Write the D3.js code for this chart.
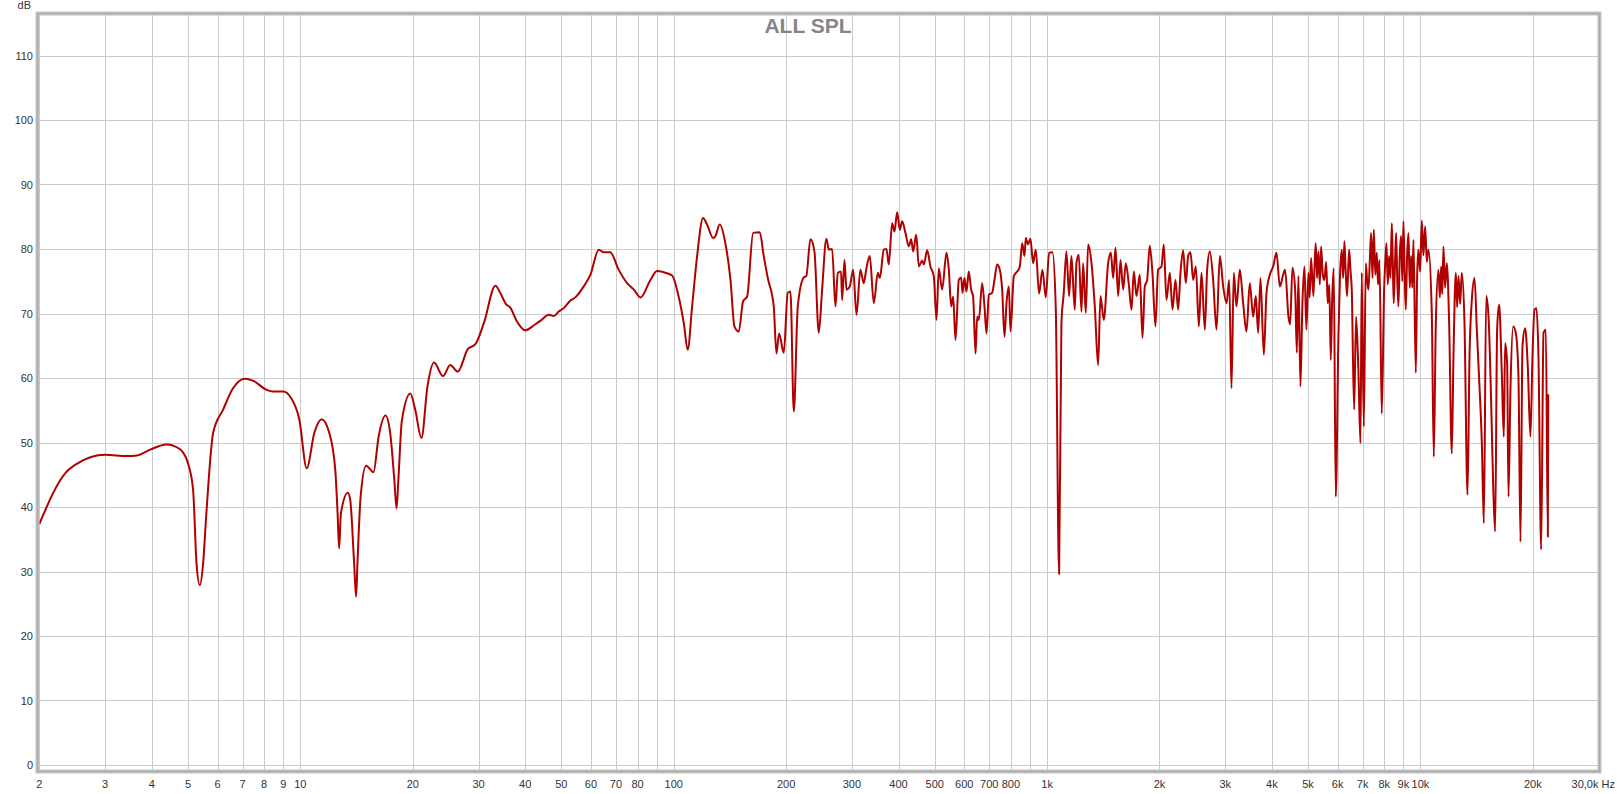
<!DOCTYPE html>
<html><head><meta charset="utf-8">
<script src="https://cdn.jsdelivr.net/npm/d3@7"></script>
<style>html,body{margin:0;padding:0;background:#fff;} svg{display:block;}</style>
</head><body>
<svg id="chart" width="1617" height="794"></svg>
<script>
// ---- data ----
const freqHz = [
2.0,2.35,2.52,3.0,3.43,3.65,3.96,4.38,4.57,4.86,5.0,5.16,5.27,5.38,5.49,5.60,5.84,6.21,6.60,7.09,7.46,8.10,8.44,9.0,9.44,9.94,10.4,10.9,11.4,11.95,12.4,12.58,12.7,12.84,13.4,13.6,13.93,14.1,14.22,14.5,15.0,15.7,16.2,16.9,17.4,17.85,18.1,18.3,18.7,19.7,20.3,21.1,21.9,22.8,24.1,25.2,26.4,28.1,29.4,31.0,33.3,34.3,35.5,36.5,38.0,40.0,
42.5,44.0,46.3,47.7,49.2,50.7,52.9,54.5,57.4,59.8,63.0,64.9,67.6,71.2,75.0,78.2,81.5,86.6,90.2,94.0,99.0,103.1,106.4,109.0,112.0,115.5,119.8,122.8,127.5,129.3,132.8,137.5,141.9,145.4,149.3,153.4,157.2,163.2,170.0,174.2,178.6,185.3,188.4,191.5,197.1,202.0,205.4,209.7,214.9,223.0,226.5,232.3,238.2,244.6,249.7,256.4,260.2,265.6,271.1,275.1,280.6,282.5,286.6,290.2,296.2,302.4,308.7,316.2,322.8,328.1,335,343.5,352.1,356.5,365.3,371.3,376.7,384.6,390.1,396.6,403.2,409.0,417.5,426.2,432.4,437.8,446.0,453.4,462.8,467.6,477.3,487.1,497.2,505.5,512.8,523.4,537.7,545.5,553.4,560.2,568.4,580.2,588.6,593.5,600.9,608.1,617.0,626.0,633.7,643.1,649.7,656.4,669.9,679.7,688.2,698.1,712.6,722.8,734.8,747.1,758.0,768.9,778.5,789.8,798.0,814.5,831.4,845.3,857.4,869.8,
876.9,889.6,902.4,917.4,932.4,951.8,971.6,991.8,1012.5,1033.5,1055,1076.7,1092.3,1108.3,1126.6,1145.2,1162,1186,1198.4,1215.7,1236,1248.7,1269.5,1287.8,1315,1342,1369.8,1389.9,1418.7,1457,1481.6,1502.9,1524.8,1550,1572.7,1598.5,1624.9,1655.4,1682.7,1707.2,1735.4,1771.6,1800.9,1826.8,1853.5,1883.6,1914.9,1950.7,1983,2024.4,2053.6,2087.9,2131.2,2166.7,2207.1,2243.6,2276.4,2314,2352.6,2386.5,2421.4,2461.3,2502.4,2549.1,2591.2,2645.4,2683.4,2728.3,2784.8,2842.5,2901.8,2962,3023.4,3073.6,3118,3162.3,3215,3282.3,3350.5,3419.8,3490.5,3563.7,3622.5,3675.4,3728.3,3806.4,3869.2,3949.3,4032,4115.5,4200.7,4287.6,
4339,4430,4476,4541,4617,4665,4712,4770,4829,4889,4949,5011,5050,5093,5167,5205,5242,5285,5330,5375,5418,5475,5530,5590,5645,5700,5751,5800,5858,5931,6029,6090,6155,6205,6256,6300,6360,6440,6500,6546,6642,6724,6822,6907,6963,7051,7139,7200,7255,7315,7375,7440,7500,7570,7638,7700,7766,7877,7992,8050,8108,8175,8241,8310,8379,8430,8481,8540,8605,8670,8731,8800,8875,8940,9004,9070,9134,9210,9287,9360,9441,9510,9577,9716,9800,9876,9980,10083,10180,10292,10400,10505,10724,10857,10993,11174,11270,11360,11440,11524,11640,11763,11935,12132,12257,12437,12540,12642,12770,12904,13120,13365,13532,13727,13956,14157,14364,14602,14784,14998,15217,15468,15662,15849,16045,16245,16513,16720,16856,17067,17209,17420,17711,18004,18301,18530,18762,19068,19383,19702,19953,20202,20450,20705,21052,21356,21669,21936,21990
];
const splDb = [
37.4,45.3,46.7,48.1,47.9,48.0,48.9,49.7,49.5,48.4,46.8,42.7,31.3,27.9,31.3,39.0,51.5,55.1,58.4,59.9,59.6,58.2,57.9,57.9,56.9,53.5,46.0,51.5,53.6,51.5,45.8,39.0,33.6,39.0,42.2,41.1,31.3,26.1,31.3,41.6,46.4,45.4,50.9,54.2,51.5,44.2,39.8,44.2,53.4,57.6,55.1,50.7,58.7,62.4,60.3,62.0,61.0,64.5,65.2,68.5,74.3,73.2,71.5,70.9,68.8,67.4,
68.3,68.9,69.8,69.6,70.3,70.8,72.0,72.5,74.2,76.0,79.9,79.5,79.5,76.8,74.7,73.7,72.5,75.2,76.6,76.4,75.9,72.6,68.5,64.4,71.1,78.9,84.8,83.8,81.7,82.0,83.8,80.9,75.2,68.0,67.2,71.9,72.6,82.5,82.6,78.9,75.5,71.1,63.8,66.9,63.9,73.2,73.4,54.8,71.1,75.6,75.8,81.5,79.6,67.0,73.7,81.6,79.9,80.0,71.1,76.3,76.5,72.1,78.3,73.7,74.2,76.8,69.8,76.8,74.7,77.0,78.9,71.6,76.3,75.5,79.9,80.0,77.6,84.0,82.7,85.7,83.0,84.3,82.5,80.4,81.5,79.6,82.2,77.3,78.2,77.6,79.8,77.3,75.8,69.0,77.0,73.7,79.4,76.8,71.1,72.6,65.9,75.2,75.6,73.2,75.5,73.4,76.5,73.7,72.6,63.8,69.5,69.0,74.7,71.1,66.9,72.9,73.2,75.2,77.6,76.8,73.7,66.4,71.6,74.2,67.2,75.8,76.5,77.3,80.9,78.9,
81.7,80.7,81.6,77.8,79.9,73.1,76.8,72.5,79.4,79.5,70.8,29.6,68.5,73.2,79.6,72.7,78.9,70.6,77.8,79.1,70.3,77.8,70.1,80.7,77.8,71.1,62.0,72.7,69.0,77.8,79.4,75.5,80.2,72.7,78.3,73.7,77.8,74.5,70.6,76.5,72.7,76.0,66.2,74.2,75.2,80.5,76.3,68.0,76.8,77.3,80.7,72.1,76.3,70.6,75.2,70.6,76.3,79.8,74.7,78.9,79.5,75.2,77.3,68.0,76.3,67.5,76.8,79.6,75.2,67.5,78.9,74.2,71.6,75.2,58.4,76.3,71.1,76.8,71.6,67.2,74.7,69.5,72.7,67.0,75.5,63.6,73.2,76.0,77.3,79.4,74.2,76.0,
76.8,69.5,68.3,77.1,73.7,63.9,75.8,58.7,71.6,77.3,67.5,76.3,72.5,78.6,72.7,77.5,80.9,75.5,79.6,74.5,80.4,76.0,75.2,78.0,71.6,74.5,62.8,72.0,77.0,41.6,66.4,76.0,79.9,75.5,81.2,77.0,72.7,79.9,76.5,73.7,55.1,69.5,60.8,49.9,76.3,52.5,77.8,75.0,73.7,78.0,82.5,75.5,83.0,76.0,79.4,74.5,78.3,54.5,73.7,78.0,80.9,74.5,78.9,75.5,84.0,78.0,71.6,77.0,82.5,75.0,71.1,79.0,82.0,75.0,84.3,76.0,70.6,79.0,82.5,74.0,78.9,74.0,81.4,60.8,76.0,79.9,76.5,84.4,79.0,83.5,78.0,79.9,70.1,47.8,68.5,76.8,72.5,77.3,73.0,80.4,74.0,77.8,68.5,48.3,63.3,76.3,71.0,75.8,71.5,76.3,68.5,41.9,63.3,72.1,75.5,67.5,59.7,49.9,37.5,72.7,69.5,56.1,43.2,36.2,67.5,71.4,60.8,50.9,65.4,62.3,41.6,58.2,68.0,67.0,60.2,34.6,64.9,67.7,61.8,50.9,63.3,70.6,70.8,63.3,33.4,67.0,67.5,35.4,57.5
];
const gridFreqs = [2,3,4,5,6,7,8,9,10,20,30,40,50,60,70,80,90,100,200,300,400,500,600,700,800,900,1000,2000,3000,4000,5000,6000,7000,8000,9000,10000,20000];
const labelFreqs = [2,3,4,5,6,7,8,9,10,20,30,40,50,60,70,80,100,200,300,400,500,600,700,800,1000,2000,3000,4000,5000,6000,7000,8000,9000,10000,20000];
const labelTexts = ["2","3","4","5","6","7","8","9","10","20","30","40","50","60","70","80","100","200","300","400","500","600","700","800","1k","2k","3k","4k","5k","6k","7k","8k","9k","10k","20k"];
const lastLabel = "30,0k Hz";
const dbTicks = [0,10,20,30,40,50,60,70,80,90,100,110];
const yUnit = "dB";
const chartTitle = "ALL SPL";

// ---- drawing ----
const svg = d3.select("#chart");
const frame = {left:37.5, right:1599.5, top:13.5, bottom:771.5};
const x = d3.scaleLog().domain([2,30000]).range([39.4,1598.6]);
const y = d3.scaleLinear().domain([0,110]).range([765,55.5]);
const font = "'Liberation Sans', Arial, Helvetica, sans-serif";

svg.append("rect").attr("width",1617).attr("height",794).attr("fill","#fff");

const defs = svg.append("defs");
defs.append("clipPath").attr("id","clip").append("rect")
  .attr("x",frame.left+1).attr("y",frame.top+1)
  .attr("width",frame.right-frame.left-2).attr("height",frame.bottom-frame.top-2);

const grid = svg.append("g").attr("stroke","#cbcbcb").attr("stroke-width",1);
grid.selectAll("line.v").data(gridFreqs).join("line").attr("class","v")
  .attr("x1",d=>Math.round(x(d))+0.5).attr("x2",d=>Math.round(x(d))+0.5)
  .attr("y1",frame.top).attr("y2",frame.bottom);
grid.selectAll("line.h").data(dbTicks).join("line").attr("class","h")
  .attr("y1",d=>Math.round(y(d))+0.5).attr("y2",d=>Math.round(y(d))+0.5)
  .attr("x1",frame.left).attr("x2",frame.right);

// title
svg.append("text").attr("x",808).attr("y",33).attr("text-anchor","middle")
  .attr("font-family",font).attr("font-weight","bold").attr("font-size",21)
  .attr("fill","#858585").text(chartTitle);

// curve
const pts = freqHz.map((f,i)=>[f,splDb[i]]);
const line = d3.line().x(d=>x(d[0])).y(d=>y(d[1])).curve(d3.curveMonotoneX);
svg.append("g").attr("clip-path","url(#clip)").append("path")
  .datum(pts).attr("d",line).attr("fill","none")
  .attr("stroke","#b00000").attr("stroke-width",2).attr("stroke-linejoin","round");

// frame
svg.append("rect").attr("x",frame.left).attr("y",frame.top)
  .attr("width",frame.right-frame.left).attr("height",frame.bottom-frame.top)
  .attr("fill","none").attr("stroke","#c4c4c4").attr("stroke-width",4);
svg.append("rect").attr("x",frame.left).attr("y",frame.top)
  .attr("width",frame.right-frame.left).attr("height",frame.bottom-frame.top)
  .attr("fill","none").attr("stroke","#ababab").attr("stroke-width",1.5);

// y labels
svg.append("g").selectAll("text").data(dbTicks).join("text")
  .attr("x",33).attr("y",d=>y(d)+4).attr("text-anchor","end")
  .attr("font-family",font).attr("font-size",11).attr("fill","#333")
  .text(d=>d);
svg.append("text").attr("x",31).attr("y",9).attr("text-anchor","end")
  .attr("font-family",font).attr("font-size",11).attr("fill","#333").text(yUnit);

// x labels
svg.append("g").selectAll("text").data(labelFreqs).join("text")
  .attr("x",d=>x(d)).attr("y",788).attr("text-anchor","middle")
  .attr("font-family",font).attr("font-size",11).attr("fill","#333")
  .text((d,i)=>labelTexts[i]);
svg.append("text").attr("x",1615).attr("y",788).attr("text-anchor","end")
  .attr("font-family",font).attr("font-size",11).attr("fill","#333").text(lastLabel);
</script>
</body></html>
